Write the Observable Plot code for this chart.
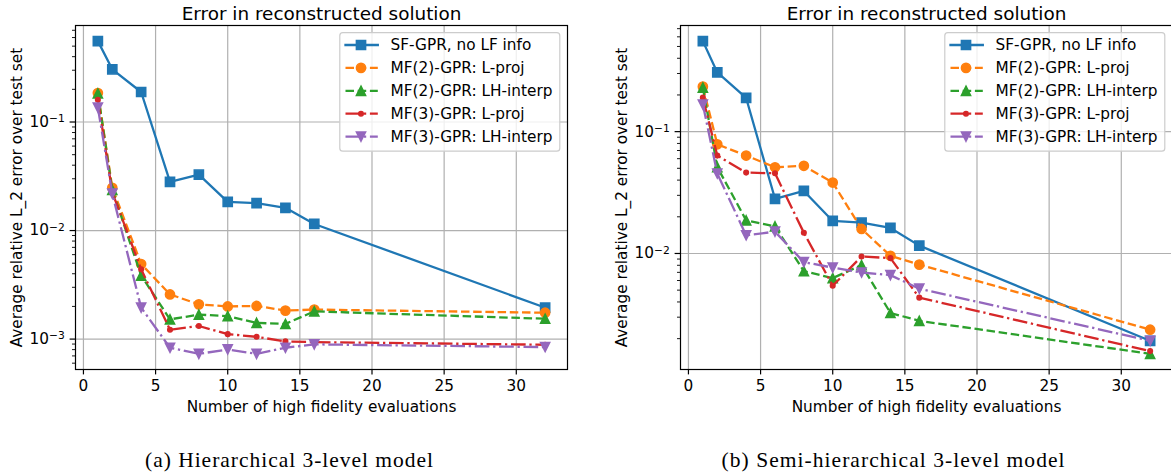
<!DOCTYPE html>
<html>
<head>
<meta charset="utf-8">
<script src="https://cdn.jsdelivr.net/npm/d3@7"></script>
<script src="https://cdn.jsdelivr.net/npm/@observablehq/plot@0.6"></script>
<style>
  html, body { margin: 0; padding: 0; background: #fff; }
  body { width: 1171px; height: 476px; overflow: hidden; position: relative; }
  .panel { position: absolute; top: 0; }
  .panel svg { max-width: none; display: block; }
  #captions { position: absolute; left: 0; top: 420px; }
</style>
</head>
<body>
<div id="panelA" class="panel" style="left:0;width:585px"></div>
<div id="panelB" class="panel" style="left:585px;width:587px"></div>
<svg id="captions" width="1171" height="56"></svg>
<script>
// Number of high-fidelity evaluations (shared x values)
const evals = [1, 2, 4, 6, 8, 10, 12, 14, 16, 32];
const xTicks = [0, 5, 10, 15, 20, 25, 30];
const seriesNames = [
  "SF-GPR, no LF info",
  "MF(2)-GPR: L-proj",
  "MF(2)-GPR: LH-interp",
  "MF(3)-GPR: L-proj",
  "MF(3)-GPR: LH-interp"
];
const chartTitle = "Error in reconstructed solution";
const xLabel = "Number of high fidelity evaluations";
const yLabel = "Average relative L_2 error over test set";
const captionA = "(a) Hierarchical 3-level model";
const captionB = "(b) Semi-hierarchical 3-level model";

// (a) hierarchical 3-level model
const hierSF      = [0.556, 0.306, 0.189, 0.0281, 0.0327, 0.0184, 0.0179, 0.0162, 0.0115, 0.00195];
const hierMF2Proj = [0.185, 0.0248, 0.00492, 0.00258, 0.00209, 0.00200, 0.00202, 0.00183, 0.00187, 0.00175];
const hierMF2Int  = [0.183, 0.0237, 0.00385, 0.00152, 0.00168, 0.00163, 0.00141, 0.00138, 0.00180, 0.00154];
const hierMF3Proj = [0.160, 0.0225, 0.00440, 0.00122, 0.00132, 0.00111, 0.00105, 0.000952, 0.000938, 0.000887];
const hierMF3Int  = [0.136, 0.0219, 0.00195, 0.000832, 0.000731, 0.000803, 0.000731, 0.000832, 0.000894, 0.000844];

// (b) semi-hierarchical 3-level model
const semiSF      = [0.553, 0.306, 0.189, 0.0281, 0.0326, 0.0185, 0.0179, 0.0162, 0.0116, 0.00192];
const semiMF2Proj = [0.234, 0.0787, 0.0636, 0.0510, 0.0524, 0.0382, 0.0159, 0.00957, 0.00810, 0.00237];
const semiMF2Int  = [0.230, 0.0512, 0.0187, 0.0167, 0.00716, 0.00628, 0.00802, 0.00325, 0.00280, 0.00150];
const semiMF3Proj = [0.190, 0.0636, 0.0461, 0.0455, 0.0148, 0.00543, 0.00945, 0.00916, 0.00434, 0.00158];
const semiMF3Int  = [0.167, 0.0453, 0.0141, 0.0151, 0.00849, 0.00765, 0.00698, 0.00664, 0.00514, 0.00192];

// marker shapes sized from Plot's r (size = PI r^2)
const rad = size => Math.sqrt(size / Math.PI);
const symbols = {
  square:  {draw(c, s) { const r = rad(s); c.rect(-r, -r, 2 * r, 2 * r); }},
  circle:  {draw(c, s) { const r = rad(s); c.moveTo(r, 0); c.arc(0, 0, r, 0, 2 * Math.PI); }},
  triUp:   {draw(c, s) { const r = rad(s); c.moveTo(0, -r); c.lineTo(r, r); c.lineTo(-r, r); c.closePath(); }},
  triDown: {draw(c, s) { const r = rad(s); c.moveTo(0, r); c.lineTo(r, -r); c.lineTo(-r, -r); c.closePath(); }}
};

const DASH = "8.5,3.7";
const DASHDOT = "14.7,3.7,2.3,3.7";
const styles = [
  {color: "#1f77b4", dash: null,    symbol: symbols.square,  r: 4.6},
  {color: "#ff7f0e", dash: DASH,    symbol: symbols.circle,  r: 4.6},
  {color: "#2ca02c", dash: DASH,    symbol: symbols.triUp,   r: 4.6},
  {color: "#d62728", dash: DASHDOT, symbol: symbols.circle,  r: 2.3},
  {color: "#9467bd", dash: DASHDOT, symbol: symbols.triDown, r: 4.6}
];

const FONT = 15.3;
// tick text as "10^e"; the exponent is turned into a raised tspan after rendering
const powTen = d => "10^" + Math.round(Math.log10(d));

function drawPanel(el, width, marginLeft, marginRight, seriesValues) {
  const rowsBySeries = seriesValues.map(vals => evals.map((e, i) => ({x: e, y: vals[i]})));
  const all = seriesValues.flat();
  // autoscaled limits with 5% margins (log space for y)
  const l0 = Math.log10(d3.min(all)), l1 = Math.log10(d3.max(all));
  const pad = 0.05 * (l1 - l0);
  const yDomain = [10 ** (l0 - pad), 10 ** (l1 + pad)];
  const [e0, e1] = d3.extent(evals);
  const xDomain = [e0 - 0.05 * (e1 - e0), e1 + 0.05 * (e1 - e0)];

  const major = [], minor = [];
  for (let p = -6; p <= 1; p++) {
    const base = 10 ** p;
    if (base >= yDomain[0] && base <= yDomain[1]) major.push(base);
    for (let k = 2; k <= 9; k++) {
      const v = k * base;
      if (v >= yDomain[0] && v <= yDomain[1]) minor.push(v);
    }
  }

  const marks = [
    Plot.gridX(xTicks, {stroke: "#b0b0b0", strokeOpacity: 1, strokeWidth: 1.2}),
    Plot.gridY(major, {stroke: "#b0b0b0", strokeOpacity: 1, strokeWidth: 1.2})
  ];
  rowsBySeries.forEach((rows, i) => {
    const s = styles[i];
    marks.push(Plot.line(rows, {
      x: "x", y: "y", stroke: s.color, strokeWidth: 2.3,
      strokeDasharray: s.dash, strokeLinejoin: "round",
      strokeLinecap: s.dash ? "butt" : "square"
    }));
    marks.push(Plot.dot(rows, {
      x: "x", y: "y", symbol: s.symbol, r: s.r,
      fill: s.color, stroke: s.color, strokeWidth: 1.5
    }));
  });
  marks.push(
    Plot.axisX(xTicks, {tickSize: 5.4, tickPadding: 5.4, strokeWidth: 1.2, label: null, fontSize: FONT}),
    Plot.axisY(major, {tickSize: 5.4, tickPadding: 5.4, strokeWidth: 1.2, label: null, tickFormat: powTen, fontSize: FONT}),
    Plot.axisY(minor, {tickSize: 3, strokeWidth: 0.9, label: null, tickFormat: () => ""}),
    Plot.frame({stroke: "black", strokeWidth: 1.2}),
    Plot.text([chartTitle], {frameAnchor: "top", dy: -6, lineAnchor: "bottom", fontSize: 18.4}),
    Plot.text([xLabel], {frameAnchor: "bottom", dy: 42, lineAnchor: "bottom", fontSize: FONT}),
    Plot.text([yLabel], {frameAnchor: "left", rotate: -90, dx: -58, textAnchor: "middle", lineAnchor: "middle", fontSize: FONT})
  );

  const svg = Plot.plot({
    width, height: 420,
    marginTop: 25, marginBottom: 51, marginLeft, marginRight,
    x: {domain: xDomain},
    y: {type: "log", domain: yDomain},
    style: {fontFamily: "DejaVu Sans", fontSize: FONT + "px", color: "black", background: "transparent", overflow: "visible"},
    marks
  });

  // raise the exponent of the y tick labels
  d3.select(svg).selectAll("text").each(function () {
    const t = this.textContent;
    const m = /^10\^(-?\d+)$/.exec(t);
    if (!m) return;
    const sel = d3.select(this);
    sel.text("10");
    sel.append("tspan").attr("dy", "-0.42em").attr("font-size", "0.7em")
      .text(m[1].replace("-", "\u2212"));
  });

  // legend in the upper-right corner of the frame
  const frameRight = width - marginRight;
  const boxW = 220, boxH = 118.5;
  const bx = frameRight - 7.2 - boxW, by = 25 + 7.7;
  const g = d3.select(svg).append("g").attr("font-family", "DejaVu Sans").attr("font-size", FONT)
    .attr("text-anchor", "start");
  g.append("rect").attr("x", bx).attr("y", by).attr("width", boxW).attr("height", boxH)
    .attr("rx", 3).attr("fill", "white").attr("fill-opacity", 0.8)
    .attr("stroke", "#cccccc").attr("stroke-width", 1.2);
  seriesNames.forEach((name, i) => {
    const s = styles[i];
    const cy = by + 12.3 + i * 22.9;
    g.append("line").attr("x1", bx + 5.7).attr("x2", bx + 38).attr("y1", cy).attr("y2", cy)
      .attr("stroke", s.color).attr("stroke-width", 2.3)
      .attr("stroke-dasharray", s.dash).attr("stroke-linecap", s.dash ? "butt" : "square");
    g.append("path").attr("transform", `translate(${bx + 21.2},${cy})`)
      .attr("d", d3.symbol(s.symbol, Math.PI * s.r * s.r)())
      .attr("fill", s.color).attr("stroke", s.color).attr("stroke-width", 1.5);
    g.append("text").attr("x", bx + 50.7).attr("y", cy).attr("dy", "0.35em")
      .attr("text-anchor", "start").attr("fill", "black").text(name);
  });

  el.appendChild(svg);
}

drawPanel(document.getElementById("panelA"), 585, 75, 18,
  [hierSF, hierMF2Proj, hierMF2Int, hierMF3Proj, hierMF3Int]);
drawPanel(document.getElementById("panelB"), 587, 95, 0,
  [semiSF, semiMF2Proj, semiMF2Int, semiMF3Proj, semiMF3Int]);

// sub-figure captions
const cap = d3.select("#captions");
[[captionA, 289, 288], [captionB, 893, 343]].forEach(([t, cx, len]) => {
  cap.append("text").attr("x", cx).attr("y", 47).attr("text-anchor", "middle")
    .attr("font-family", "Liberation Serif").attr("font-size", 21.5)
    .attr("textLength", len).attr("lengthAdjust", "spacing")
    .attr("fill", "black").text(t);
});
</script>
</body>
</html>
